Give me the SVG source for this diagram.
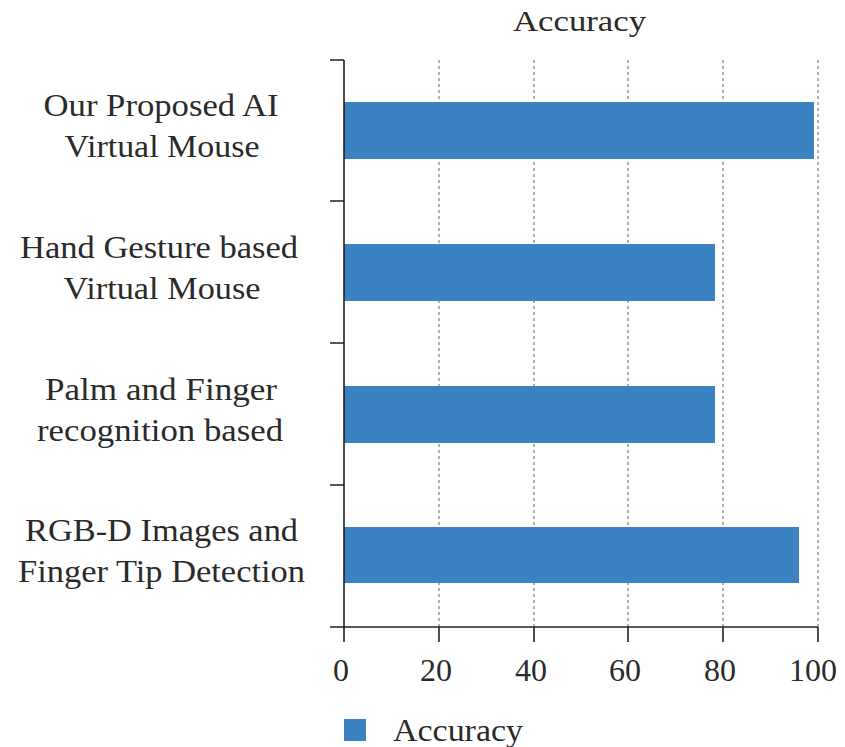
<svg xmlns="http://www.w3.org/2000/svg" width="845" height="747" viewBox="0 0 845 747">
<style>
text{font-family:"Liberation Serif","Times New Roman",serif;fill:#2a2a2a}
.lbl{font-size:32px;text-anchor:middle}
.tick{font-size:32px;text-anchor:middle}
.grid{stroke:#888;stroke-width:1.3;stroke-dasharray:3,3}
.axis{stroke:#222;stroke-width:1.6;fill:none}
.bar{fill:#3a82c1}
</style>
<rect width="845" height="747" fill="#fff"/>
<text x="579.5" y="31" style="font-size:30px;text-anchor:middle" textLength="133" lengthAdjust="spacingAndGlyphs">Accuracy</text>
<g id="grid">
<line class="grid" x1="439" y1="60" x2="439" y2="627"/>
<line class="grid" x1="534" y1="60" x2="534" y2="627"/>
<line class="grid" x1="628" y1="60" x2="628" y2="627"/>
<line class="grid" x1="723" y1="60" x2="723" y2="627"/>
<line class="grid" x1="818" y1="60" x2="818" y2="627"/>
</g>
<g id="bars">
<rect class="bar" x="344" y="102" width="470" height="57"/>
<rect class="bar" x="344" y="244" width="371" height="57"/>
<rect class="bar" x="344" y="386" width="371" height="57"/>
<rect class="bar" x="344" y="527" width="455" height="56"/>
</g>
<g id="axes">
<path class="axis" d="M344 60V627M330 627H818"/>
<path class="axis" d="M330 60H344M330 201H344M330 343H344M330 485H344"/>
<path class="axis" d="M344 627V642M439 627V642M534 627V642M628 627V642M723 627V642M818 627V642"/>
</g>
<g id="ticks">
<text class="tick" x="341" y="681">0</text>
<text class="tick" x="436" y="681">20</text>
<text class="tick" x="531" y="681">40</text>
<text class="tick" x="625" y="681">60</text>
<text class="tick" x="720" y="681">80</text>
<text class="tick" x="813" y="681">100</text>
</g>
<g id="labels">
<text class="lbl" x="161" y="116" textLength="235" lengthAdjust="spacingAndGlyphs">Our Proposed AI</text>
<text class="lbl" x="162" y="157" textLength="195" lengthAdjust="spacingAndGlyphs">Virtual Mouse</text>
<text class="lbl" x="159" y="258" textLength="278" lengthAdjust="spacingAndGlyphs">Hand Gesture based</text>
<text class="lbl" x="162" y="299" textLength="197" lengthAdjust="spacingAndGlyphs">Virtual Mouse</text>
<text class="lbl" x="161" y="400" textLength="232" lengthAdjust="spacingAndGlyphs">Palm and Finger</text>
<text class="lbl" x="160" y="441" textLength="246" lengthAdjust="spacingAndGlyphs">recognition based</text>
<text class="lbl" x="161.5" y="541" textLength="273" lengthAdjust="spacingAndGlyphs">RGB-D Images and</text>
<text class="lbl" x="161.5" y="582" textLength="287" lengthAdjust="spacingAndGlyphs">Finger Tip Detection</text>
</g>
<g id="legend">
<rect class="bar" x="344" y="719" width="22" height="22"/>
<text x="393" y="741" style="font-size:32px" textLength="130" lengthAdjust="spacingAndGlyphs">Accuracy</text>
</g>
</svg>
